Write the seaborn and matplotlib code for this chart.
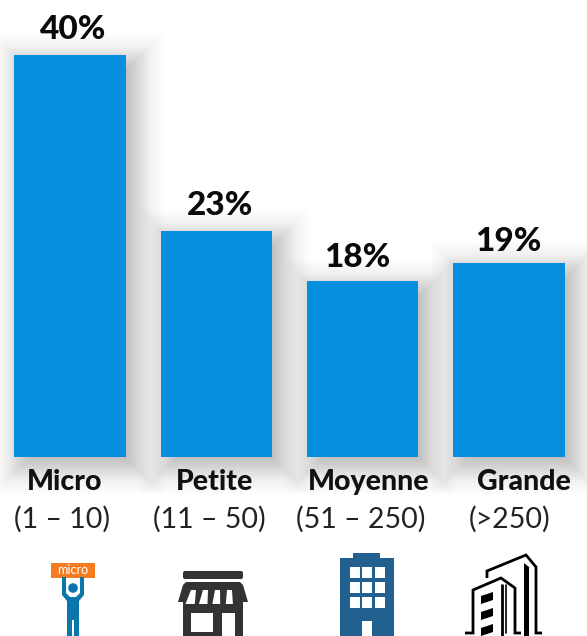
import matplotlib
matplotlib.use("Agg")
import matplotlib.pyplot as plt
from matplotlib.patches import Rectangle, Polygon, Circle, FancyBboxPatch
import seaborn as sns
import pandas as pd

sizes = ["Micro", "Petite", "Moyenne", "Grande"]
ranges = ["(1 – 10)", "(11 – 50)", "(51 – 250)", "(>250)"]
bar_heights = [40.0, 22.5, 17.5, 19.3]
value_labels = ["40%", "23%", "18%", "19%"]

W, H = 587, 636
BLUE = "#058fdc"
sns.set_theme(style="white")
plt.rcParams["font.family"] = ["Lato", "DejaVu Sans"]

fig = plt.figure(figsize=(W / 100, H / 100), dpi=100, facecolor="white")
ax = fig.add_axes([0, 0, 1, 1])
df = pd.DataFrame({"size": sizes, "value": bar_heights})
sns.barplot(data=df, x="size", y="value", color=BLUE, width=0.76, saturation=1, ax=ax, zorder=5,
            linewidth=0, edgecolor="none")
ppx = 146.33
ppy = 10.05
ax.set_xlim(-70 / ppx, (W - 70) / ppx)
ax.set_ylim(-(H - 457) / ppy, 457 / ppy)
ax.axis("off")

# soft drop shadow built from the bars themselves
for p in list(ax.patches):
    x0, w, h = p.get_x(), p.get_width(), p.get_height()
    dx, dy = 8 / ppx, -8 / ppy
    for i in range(44):
        pad = 30 - i
        a = 0.0025 + 0.0055 * min(1.0, i / 22)
        ax.add_patch(Rectangle((x0 + dx - pad / ppx, dy - pad / ppy), w + 2 * pad / ppx, h + 2 * pad / ppy,
                               fc="black", ec="none", alpha=a, zorder=2))

# overlay in pixel coordinates for text and pictograms
ov = fig.add_axes([0, 0, 1, 1], zorder=10)
ov.set_xlim(0, W)
ov.set_ylim(H, 0)
ov.axis("off")
ov.patch.set_alpha(0)

for s, x, y in zip(value_labels, [73, 220, 357, 508], [29.5, 205.5, 257.5, 241.5]):
    ov.text(x, y, s, ha="center", va="center", fontsize=24, fontweight=900, color="#0a0a0a")
for s, x in zip(sizes, [65, 215, 369, 524]):
    ov.text(x, 482, s, ha="center", va="center", fontsize=20.5, fontweight=900, color="#111111")
for s, x in zip(ranges, [62, 209, 361, 510]):
    ov.text(x, 519.5, s, ha="center", va="center", fontsize=20.5, color="#222222")

# micro person
P = "#0b76ab"
ov.add_patch(Rectangle((51, 563), 44, 15, fc="#f57c20", ec="none"))
ov.text(73, 570.5, "micro", ha="center", va="center", fontsize=9, color="white")
ov.add_patch(Circle((73, 588), 4.8, fc=P, ec="none"))
ov.add_patch(Polygon([(62, 577), (66, 577), (66, 593), (70, 597), (76, 597), (80, 593), (80, 577), (84, 577),
                      (84, 595), (79, 601), (79, 636), (67, 636), (67, 601), (62, 595)], fc=P, ec="none"))
ov.add_patch(Rectangle((72.4, 620), 1.2, 16, fc="white", ec="none"))

# shop
D = "#333333"
ov.add_patch(FancyBboxPatch((183, 571), 60, 8, boxstyle="round,pad=0,rounding_size=2", fc=D, ec="none"))
ov.add_patch(Polygon([(186, 582), (240, 582), (243, 585), (248, 602), (178, 602), (183, 585)], fc=D, ec="none"))
ov.add_patch(Rectangle((183, 600), 60, 36, fc=D, ec="none"))
for xa, xb in [(191, 197), (203, 209), (215, 221), (227, 233)]:
    ov.add_patch(Polygon([(xa, 590), (xa + 5, 590), (xb - 1 + (xa - 212) * 0.06, 604),
                          (xa - 3 + (xa - 212) * 0.12, 604)], fc="white", ec="none"))
ov.add_patch(Rectangle((191, 613), 22, 19, fc="white", ec="none"))
ov.add_patch(Rectangle((222, 613), 13, 23, fc="white", ec="none"))

# office tower
T = "#22608f"
ov.add_patch(Rectangle((353, 553), 27, 6, fc=T, ec="none"))
ov.add_patch(Rectangle((340, 558), 54, 78, fc=T, ec="none"))
for wy in [567, 582, 597]:
    for wx in [350, 362, 375]:
        ov.add_patch(Rectangle((wx, wy), 10, 11, fc="white", ec="none"))
ov.add_patch(Rectangle((362, 621), 10, 15, fc="white", ec="none"))

# skyline outline
lw = 2.0
k = dict(color="black", lw=lw, solid_joinstyle="miter", solid_capstyle="butt")
ov.plot([487, 487, 526, 536, 536, 542], [578, 571, 555, 567, 633, 633], **k)
ov.plot([465, 473, 473, 501, 515, 515, 521], [633, 633, 590, 578, 588, 633, 633], **k)
ov.plot([502, 502], [584, 636], **k)
ov.plot([505.5, 505.5], [585, 633], color="black", lw=1.2)
ov.add_patch(Polygon([(524, 563), (529, 567), (529, 636), (524, 636)], fc="black", ec="none"))
for wy in [592, 608, 624]:
    ov.add_patch(Polygon([(481, wy + 4), (493, wy), (493, wy + 8), (481, wy + 12)], fc="black", ec="none"))

fig.savefig("out.png", dpi=100, facecolor="white")
